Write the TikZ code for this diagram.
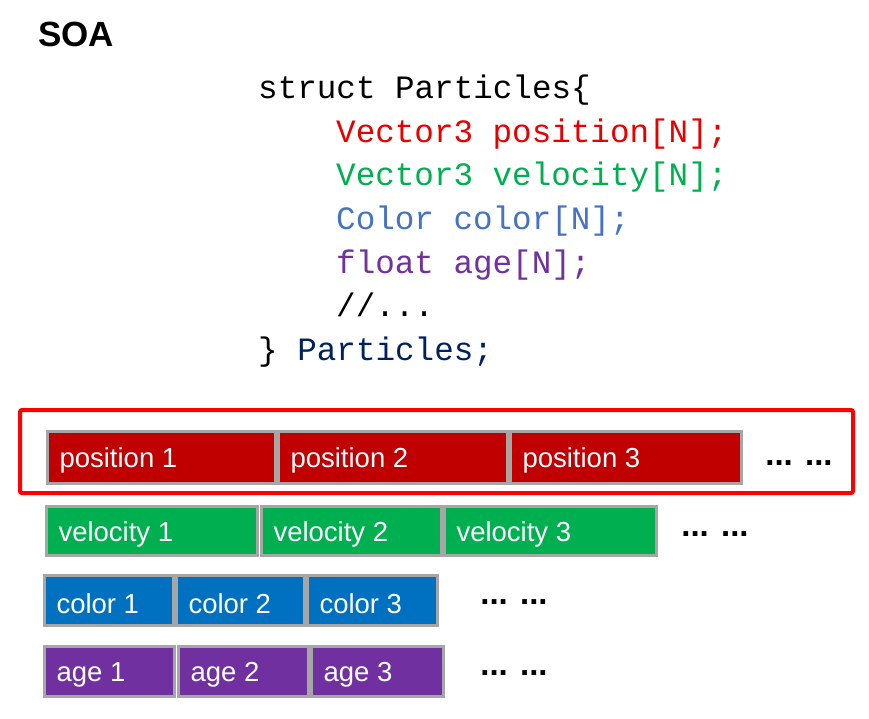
\documentclass[tikz,border=0pt]{standalone}
\usepackage{fontspec}
\setmainfont{Liberation Sans}
\setmonofont{Liberation Mono}
\usetikzlibrary{positioning}
\definecolor{posred}{RGB}{192,0,0}
\definecolor{velgreen}{RGB}{0,176,80}
\definecolor{colblue}{RGB}{0,112,192}
\definecolor{agepurple}{RGB}{112,48,160}
\definecolor{codered}{RGB}{230,0,0}
\definecolor{codegreen}{RGB}{0,176,80}
\definecolor{codeblue}{RGB}{68,114,196}
\definecolor{codenavy}{RGB}{0,32,96}
\definecolor{cellgray}{RGB}{166,166,166}
\tikzset{
  cell/.style={draw=cellgray, line width=3pt, anchor=north west, inner sep=0pt},
  celltext/.style={anchor=west, text=white, font=\fontsize{27.5}{30}\selectfont},
  code/.style={anchor=base west, inner sep=0pt, font=\ttfamily\fontsize{32.6}{36}\selectfont},
  dots/.style={font=\bfseries\fontsize{33}{36}\selectfont}
}
\newcommand{\cellrow}[5]{%
  % #1 colour, #2 top, #3 bottom, #4 list of left/right/label, #5 prefix
  \foreach \l/\r/\t [count=\i] in {#4} {
    \node[cell, fill=#1, minimum width={\r-\l}, minimum height={#3-#2}]
      (#5\i) at (\l,#2) {};
    \node[celltext] at ([xshift=10pt,yshift=-3pt]#5\i.west) {\t};
  }}
\begin{document}
\begin{tikzpicture}[x=1pt, y=-1pt]
\useasboundingbox[fill=white] (0,0) rectangle (869,719);
\node[anchor=base west, inner sep=0pt, font=\bfseries\fontsize{35}{38}\selectfont] (title) at (38,47) {SOA};
% code listing
\node[code] (l1) at (258,99) {struct Particles\{};
\node[code, text=codered] (l2) at (336,142.5) {Vector3 position[N];};
\node[code, text=codegreen] (l3) at (336,186) {Vector3 velocity[N];};
\node[code, text=codeblue] (l4) at (336,229.5) {Color color[N];};
\node[code, text=agepurple] (l5) at (336,273) {float age[N];};
\node[code] (l6) at (336,316.5) {//...};
\node[code] (l7) at (258,360) {\} \textcolor{codenavy}{Particles;}};
% memory rows
\cellrow{posred}{430}{482}{46/274/position 1, 277/506/position 2, 509/740/position 3}{p}
\cellrow{velgreen}{505}{554}{45/256/velocity 1, 260/440/velocity 2, 443/655/velocity 3}{v}
\cellrow{colblue}{574}{624}{43/172/color 1, 175/303/color 2, 306/436/color 3}{c}
\cellrow{agepurple}{645}{695}{43/173/age 1, 177/307/age 2, 310/442/age 3}{a}
\node[dots] (pd) at (799,463) {... ...};
\node[dots] (vd) at (715,534) {... ...};
\node[dots] (cd) at (514,602) {... ...};
\node[dots] (ad) at (514,673) {... ...};
% highlight
\draw[red, line width=4pt, rounded corners=2pt] (20,410) rectangle (853,493);
\end{tikzpicture}
\end{document}
